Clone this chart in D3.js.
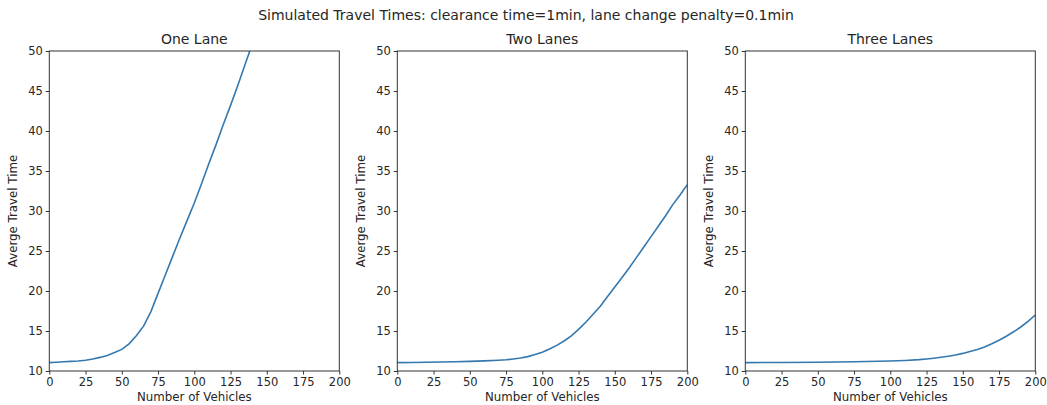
<!DOCTYPE html>
<html><head><meta charset="utf-8">
<script src="https://cdn.jsdelivr.net/npm/d3@7"></script>
<style>
body{margin:0;background:#fff;}
text{font-family:"DejaVu Sans",sans-serif;fill:#262626;}
</style></head>
<body><svg id="c" width="1047" height="405"></svg>
<script>
const suptitle = "Simulated Travel Times: clearance time=1min, lane change penalty=0.1min";
const panelTitles = ["One Lane", "Two Lanes", "Three Lanes"];
const xLabel = "Number of Vehicles";
const yLabel = "Averge Travel Time";
const xTicks = [0, 25, 50, 75, 100, 125, 150, 175, 200];
const yTicks = [10, 15, 20, 25, 30, 35, 40, 45, 50];

const vehiclesOne = [0,5,10,15,20,25,30,35,40,45,50,55,60,65,70,75,80,85,90,95,100,105,110,115,120,125,130,135,140];
const timesOne =    [11.05,11.1,11.15,11.2,11.25,11.35,11.5,11.7,11.95,12.3,12.7,13.4,14.4,15.6,17.4,19.7,22.0,24.3,26.6,28.8,31.0,33.4,35.9,38.3,40.8,43.2,45.7,48.3,50.9];

const vehiclesTwo = [0,10,20,30,40,50,60,70,75,80,85,90,95,100,105,110,115,120,125,130,135,140,145,150,155,160,165,170,175,180,185,190,195,200];
const timesTwo =    [11.05,11.07,11.1,11.12,11.15,11.2,11.27,11.35,11.4,11.5,11.62,11.8,12.05,12.35,12.75,13.2,13.75,14.4,15.2,16.1,17.1,18.1,19.3,20.5,21.7,22.9,24.2,25.5,26.8,28.1,29.4,30.8,32.0,33.3];

const vehiclesThree = [0,25,50,75,100,110,120,125,130,135,140,145,150,155,160,165,170,175,180,185,190,195,200];
const timesThree =    [11.05,11.07,11.1,11.15,11.25,11.32,11.42,11.5,11.6,11.72,11.85,12.0,12.2,12.45,12.7,13.0,13.4,13.85,14.35,14.9,15.5,16.2,17.0];

const series = [[vehiclesOne,timesOne],[vehiclesTwo,timesTwo],[vehiclesThree,timesThree]];

const svg = d3.select("#c");
const lefts = [49.3, 397.3, 745.3];
const W = 290, plotTop = 51, plotBottom = 371;

svg.append("text").attr("x", 526).attr("y", 20).attr("text-anchor","middle")
  .style("font-size","14px").text(suptitle);

lefts.forEach((L, i) => {
  const x = d3.scaleLinear().domain([0,200]).range([L, L+W]);
  const y = d3.scaleLinear().domain([10,50]).range([plotBottom, plotTop]);
  const g = svg.append("g");
  const cid = "clip"+i;
  svg.append("clipPath").attr("id",cid).append("rect")
    .attr("x",L).attr("y",plotTop).attr("width",W).attr("height",plotBottom-plotTop);
  const line = d3.line().x((d,j)=>x(series[i][0][j])).y(d=>y(d));
  g.append("path").datum(series[i][1]).attr("d",line)
    .attr("clip-path","url(#"+cid+")")
    .attr("fill","none").attr("stroke","#3478b0").attr("stroke-width",1.6);
  const xa = g.append("g").attr("transform",`translate(0,${plotBottom})`)
    .call(d3.axisBottom(x).tickValues(xTicks).tickSize(3.5).tickPadding(3));
  const ya = g.append("g").attr("transform",`translate(${L},0)`)
    .call(d3.axisLeft(y).tickValues(yTicks).tickSize(3.5).tickPadding(3));
  [xa,ya].forEach(a=>{
    a.select(".domain").remove();
    a.selectAll("line").attr("stroke","#333");
    a.selectAll("text").style("font-size","11.5px").style("font-family","DejaVu Sans").attr("fill","#262626");
  });
  g.append("rect").attr("x",L).attr("y",plotTop).attr("width",W).attr("height",plotBottom-plotTop)
    .attr("fill","none").attr("stroke","#333").attr("stroke-width",1);
  g.append("text").attr("x",L+W/2).attr("y",44).attr("text-anchor","middle")
    .style("font-size","14px").text(panelTitles[i]);
  g.append("text").attr("x",L+W/2).attr("y",401).attr("text-anchor","middle")
    .style("font-size","11.8px").text(xLabel);
  g.append("text").attr("transform",`translate(${L-32},${(plotTop+plotBottom)/2}) rotate(-90)`)
    .attr("text-anchor","middle").style("font-size","11.8px").text(yLabel);
});
</script></body></html>
